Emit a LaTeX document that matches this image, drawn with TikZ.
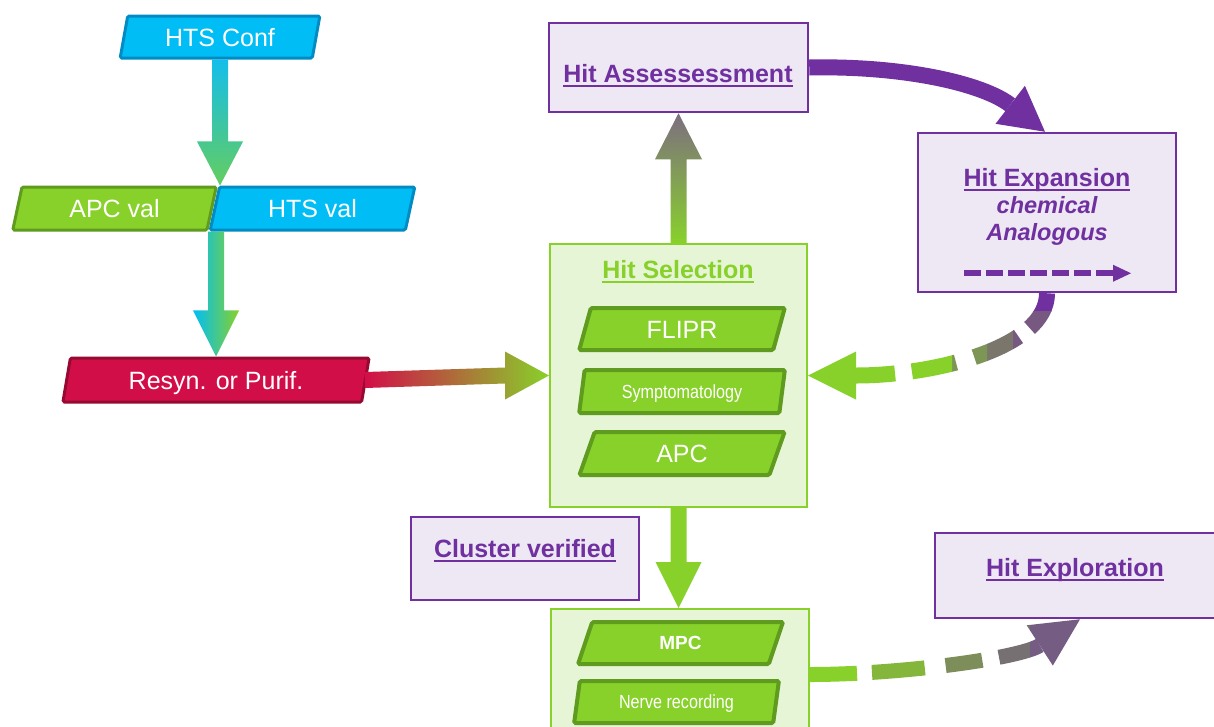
\documentclass[tikz,border=0pt]{standalone}
\usepackage{fontspec}
\setmainfont{Liberation Sans}
\newfontfamily\narrowfont[FakeStretch=0.85]{Liberation Sans}
\usetikzlibrary{shapes.geometric,arrows.meta,calc}
\definecolor{cy}{RGB}{0,190,245}
\definecolor{cyb}{RGB}{0,140,195}
\definecolor{cyA}{RGB}{20,190,235}
\definecolor{grA}{RGB}{100,205,95}
\definecolor{gr}{RGB}{136,209,42}
\definecolor{grd}{RGB}{95,155,30}
\definecolor{cr}{RGB}{210,14,72}
\definecolor{crd}{RGB}{150,10,50}
\definecolor{brn}{RGB}{175,105,60}
\definecolor{lav}{RGB}{237,232,243}
\definecolor{pur}{RGB}{112,48,160}
\definecolor{lgr}{RGB}{230,245,214}
\definecolor{gp}{RGB}{125,110,128}
\definecolor{gA}{RGB}{118,88,128}
\definecolor{gB}{RGB}{122,118,108}
\definecolor{gC}{RGB}{125,150,85}
\definecolor{hA}{RGB}{132,182,60}
\definecolor{hB}{RGB}{125,142,90}
\definecolor{hC}{RGB}{118,112,115}
\definecolor{hD}{RGB}{116,92,130}
\newcommand\myul[1]{\setbox0=\hbox{#1}\rlap{\rule[-4.5pt]{\wd0}{1.8pt}}\box0}
\newcommand\retG[1]{\draw[#1] (expan.south) .. controls +(0,55) and +(125,0) .. (sel.east);}
\newcommand\expH[1]{\draw[#1] (mpcb.east) .. controls +(90,0) and +(-60,39) .. (explo.south);}
\begin{document}
\begin{tikzpicture}[x=1pt,y=-1pt,
  para/.style={trapezium, trapezium left angle=76, trapezium right angle=104,
    trapezium stretches=true, minimum height=42pt, text=white,
    font=\fontsize{25}{30}\selectfont, text height=18pt, text depth=0pt,
    inner sep=0pt, rounded corners=1.5pt},
  bluepara/.style={para, fill=cy, draw=cyb, line width=3pt},
  greenpara/.style={para, fill=gr, draw=grd, line width=3pt},
  redpara/.style={para, fill=cr, draw=crd, line width=3pt},
  inpara/.style={para, fill=gr, draw=grd, line width=4pt},
  pbox/.style={rectangle, fill=lav, draw=pur, line width=2.5pt, inner sep=0pt},
  gbox/.style={rectangle, fill=lgr, draw=gr, line width=2pt, inner sep=0pt},
  ptitle/.style={anchor=base, text=pur, font=\fontsize{25}{30}\selectfont\bfseries, inner sep=0pt},
  pital/.style={anchor=base, text=pur, font=\fontsize{23.5}{28}\selectfont\bfseries\itshape, inner sep=0pt},
  gstyle/.style={line width=16pt, dash pattern=on 40pt off 14pt on 49pt off 19pt on 45pt off 17pt on 200pt,
    -{Triangle[length=48pt,width=48pt,line width=0pt]}},
  hstyle/.style={line width=15pt, dash pattern=on 47pt off 15pt on 53pt off 21pt on 37pt off 17pt on 200pt,
    -{Triangle[length=48pt,width=48pt,line width=0pt]}}
]
\fill[white] (0,0) rectangle (1214,726);
\useasboundingbox (0,0) rectangle (1214,726);

% boxes
\node[pbox, minimum width=259pt, minimum height=89pt] (assess) at (678.5,67.5) {};
\node[pbox, minimum width=258pt, minimum height=159pt] (expan) at (1047,212.5) {};
\node[gbox, minimum width=257pt, minimum height=263pt] (sel) at (678.5,375.5) {};
\node[pbox, minimum width=228pt, minimum height=83pt] (clust) at (525,558.5) {};
\node[pbox, minimum width=290pt, minimum height=85pt] (explo) at (1080,575.5) {};
\node[gbox, minimum width=258pt, minimum height=131pt] (mpcb) at (680,674.5) {};

% titles
\node[ptitle] (assessT) at (678,82) {\myul{Hit Assessessment}};
\node[ptitle] (expanT) at (1047,186) {\myul{Hit Expansion}};
\node[pital] (chem) at (1047,213) {chemical};
\node[pital] (analog) at (1047,240) {Analogous};
\node[ptitle, text=gr] (selT) at (678,278) {\myul{Hit Selection}};
\node[ptitle] (clustT) at (525,557) {\myul{Cluster verified}};
\node[ptitle] (exploT) at (1075,576) {\myul{Hit Exploration}};

% parallelograms
\node[bluepara, minimum width=200pt] (conf) at (220,37) {HTS Conf};
\node[greenpara, minimum width=205pt, minimum height=43pt] (apcval) at (114.5,208.5) {APC val};
\node[bluepara, minimum width=205pt, minimum height=43pt] (htsval) at (312.5,208.5) {HTS val};
\node[redpara, minimum width=307pt, minimum height=44pt] (resyn) at (216,380) {Resyn. or Purif.};
\node[inpara, minimum width=206pt] (flipr) at (682,329) {FLIPR};
\node[inpara, minimum width=206pt, minimum height=43pt, font=\narrowfont\fontsize{19}{22}\selectfont, text height=13.6pt] (symp) at (682,391.5) {Symptomatology};
\node[inpara, minimum width=206pt, minimum height=43pt] (apc) at (682,453.5) {APC};
\node[inpara, minimum width=205pt, font=\bfseries\fontsize{19}{22}\selectfont, text height=13.6pt] (mpc) at (680.5,643) {MPC};
\node[inpara, minimum width=205pt, font=\narrowfont\fontsize{19}{22}\selectfont, text height=13.6pt] (nerve) at (676.5,702) {Nerve recording};

% straight gradient arrows
\shade[top color=cyA, bottom color=grA] let \p1=(conf.south), \p2=(conf.south |- htsval.north) in
  (\x1-8pt,\y1) -- (\x1-8pt,\y2+44pt) -- (\x1-23pt,\y2+44pt) -- (\x2,\y2)
  -- (\x1+23pt,\y2+44pt) -- (\x1+8pt,\y2+44pt) -- (\x1+8pt,\y1) -- cycle;
\shade[left color=cy, right color=gr] let \p1=(resyn.north |- htsval.south), \p2=(resyn.north) in
  (\x1-8pt,\y1) -- (\x1-8pt,\y2+46pt) -- (\x1-23pt,\y2+46pt) -- (\x2,\y2)
  -- (\x1+23pt,\y2+46pt) -- (\x1+8pt,\y2+46pt) -- (\x1+8pt,\y1) -- cycle;
\shade[left color=cr, middle color=brn, right color=gr] let \p1=(resyn.east), \p2=(sel.west) in
  (\x1-2pt,\y1+8pt) -- (\x2-44pt,\y2+8pt) -- (\x2-44pt,\y2+24pt) -- (\x2,\y2)
  -- (\x2-44pt,\y2-24pt) -- (\x2-44pt,\y2-8pt) -- (\x1-2pt,\y1-8pt) -- cycle;
\shade[top color=gp, bottom color=gr] let \p1=(sel.north), \p2=(assess.south) in
  (\x1-8pt,\y1) -- (\x1-8pt,\y2-46pt) -- (\x1-23.5pt,\y2-46pt) -- (\x1,\y2)
  -- (\x1+23.5pt,\y2-46pt) -- (\x1+8pt,\y2-46pt) -- (\x1+8pt,\y1) -- cycle;
\fill[gr] let \p1=(sel.south), \p2=(mpcb.north) in
  (\x1-8pt,\y1) -- (\x1-8pt,\y2+46pt) -- (\x1-23pt,\y2+46pt) -- (\x1,\y2)
  -- (\x1+23pt,\y2+46pt) -- (\x1+8pt,\y2+46pt) -- (\x1+8pt,\y1) -- cycle;

% curved purple arrow
\draw[pur, line width=16pt, -{Triangle[length=44pt,width=48pt,line width=0pt]}]
  (assess.east) .. controls +(95,-2) and +(-62,-48) .. ($(expan.north)+(-2,0)$);

% inner dashed arrow
\draw[pur, line width=6pt, dash pattern=on 17pt off 5pt, -{Triangle[length=18pt,width=17pt,line width=0pt]}]
  ($(expan.south)+(-83,-20)$) -- ($(expan.south)+(84,-20)$);

% dashed return arrow (expansion -> selection)
\begin{scope}\clip (1000,280) rectangle (1100,311); \retG{gstyle, color=pur}\end{scope}
\begin{scope}\clip (1013,311) rectangle (1100,400); \retG{gstyle, color=gA}\end{scope}
\begin{scope}\clip (987,300) rectangle (1013,400); \retG{gstyle, color=gB}\end{scope}
\begin{scope}\clip (952,300) rectangle (987,400); \retG{gstyle, color=gC}\end{scope}
\begin{scope}\clip (780,300) rectangle (952,420); \retG{gstyle, color=gr}\end{scope}

% dashed exploration arrow
\begin{scope}\clip (800,600) rectangle (866,700); \expH{hstyle, color=gr}\end{scope}
\begin{scope}\clip (866,600) rectangle (935,700); \expH{hstyle, color=hA}\end{scope}
\begin{scope}\clip (935,600) rectangle (990,700); \expH{hstyle, color=hB}\end{scope}
\begin{scope}\clip (990,600) rectangle (1030,700); \expH{hstyle, color=hC}\end{scope}
\begin{scope}\clip (1030,590) rectangle (1110,700); \expH{hstyle, color=hD}\end{scope}
\end{tikzpicture}
\end{document}
